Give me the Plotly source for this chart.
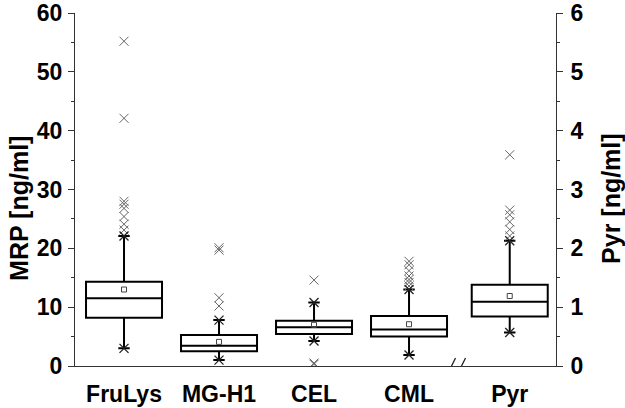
import plotly.graph_objects as go

# ---- data ----
categories = ["FruLys", "MG-H1", "CEL", "CML", "Pyr"]
q1_vals = [8.2, 2.5, 5.45, 5.0, 0.84]
median_vals = [11.5, 3.45, 6.57, 6.2, 1.09]
q3_vals = [14.3, 5.27, 7.7, 8.5, 1.38]
mean_vals = [13.0, 4.1, 7.0, 7.1, 1.19]
low_whisker = [3.0, 1.0, 4.25, 1.87, 0.57]
high_whisker = [22.1, 7.8, 10.8, 13.0, 2.13]
frulys_outliers = [55.2, 42.1, 28.0, 27.5, 26.8, 25.4, 24.1, 23.1]
mgh1_outliers = [20.1, 19.7, 11.6, 10.2]
cel_outliers = [14.6, 0.5, 0.3]
cml_outliers = [17.8, 17.2, 16.2, 15.3, 14.7, 14.2, 13.6]
pyr_outliers = [3.59, 2.65, 2.57, 2.45, 2.32, 2.21]

# ---- layout helpers (positions, not data) ----
x_pos = [0, 1, 2, 3, 4.06]
break_pos = 3.5
FONT = "Liberation Sans, Arial, sans-serif"
outliers = [frulys_outliers, mgh1_outliers, cel_outliers, cml_outliers, pyr_outliers]

fig = go.Figure()

box_style = dict(
    fillcolor="white",
    line=dict(color="black", width=2),
    whiskerwidth=0.15,
    boxpoints=False,
    width=0.8,
    showlegend=False,
    hoverinfo="skip",
)

# MRP boxes (left axis)
fig.add_trace(go.Box(
    x=x_pos[:4], q1=q1_vals[:4], median=median_vals[:4], q3=q3_vals[:4],
    lowerfence=low_whisker[:4], upperfence=high_whisker[:4],
    yaxis="y", **box_style))
# Pyr box (right axis)
fig.add_trace(go.Box(
    x=x_pos[4:], q1=q1_vals[4:], median=median_vals[4:], q3=q3_vals[4:],
    lowerfence=low_whisker[4:], upperfence=high_whisker[4:],
    yaxis="y2", **box_style))

for i, cat in enumerate(categories):
    ax = "y2" if cat == "Pyr" else "y"
    # outliers
    fig.add_trace(go.Scatter(
        x=[x_pos[i]] * len(outliers[i]), y=outliers[i], yaxis=ax, mode="markers",
        marker=dict(symbol="x-thin-open", size=9, color="#666666",
                    line=dict(color="#666666", width=1)),
        showlegend=False, hoverinfo="skip"))
    # 1% / 99% markers at whisker ends
    fig.add_trace(go.Scatter(
        x=[x_pos[i]] * 2, y=[low_whisker[i], high_whisker[i]], yaxis=ax, mode="markers",
        marker=dict(symbol="x-thin-open", size=9, color="#222222",
                    line=dict(color="#222222", width=1.3)),
        showlegend=False, hoverinfo="skip"))
    # mean
    fig.add_trace(go.Scatter(
        x=[x_pos[i]], y=[mean_vals[i]], yaxis=ax, mode="markers",
        marker=dict(symbol="square-open", size=5, color="#444444",
                    line=dict(color="#444444", width=1)),
        showlegend=False, hoverinfo="skip"))

tickfont = dict(family=FONT, size=23, color="black", weight="bold")
titlefont = dict(family=FONT, size=25, color="black", weight="bold")

fig.update_layout(
    width=625, height=408,
    margin=dict(l=75, r=69, t=13, b=42, autoexpand=False),
    paper_bgcolor="white", plot_bgcolor="white",
    xaxis=dict(
        range=[-0.516, 4.547], tickvals=x_pos, ticktext=categories, automargin=False,
        showline=True, linecolor="#333333", linewidth=1, ticks="",
        showgrid=False, zeroline=False, tickfont=tickfont, ticklabelstandoff=7,
    ),
    yaxis=dict(
        range=[0, 60], dtick=10, showline=True, linecolor="#333333", linewidth=1,
        ticks="outside", ticklen=6, tickcolor="#333333", showgrid=False, zeroline=False,
        tickfont=tickfont, ticklabelstandoff=1, automargin=False,
        minor=dict(dtick=5, ticks="outside", ticklen=3, tickcolor="#333333"),
    ),
    yaxis2=dict(
        range=[0, 6], dtick=1, overlaying="y", side="right", showline=True,
        linecolor="#333333", linewidth=1, ticks="outside", ticklen=6, tickcolor="#333333",
        showgrid=False, zeroline=False, tickfont=tickfont, ticklabelstandoff=3,
        automargin=False,
        minor=dict(dtick=0.5, ticks="outside", ticklen=3, tickcolor="#333333"),
    ),
    annotations=[
        dict(text="MRP [ng/ml]", xref="paper", yref="paper", x=-0.1164, y=0.445,
             xanchor="center", yanchor="middle",
             textangle=-90, showarrow=False, font=titlefont),
        dict(text="Pyr [ng/ml]", xref="paper", yref="paper", x=1.1143, y=0.476,
             xanchor="center", yanchor="middle",
             textangle=-90, showarrow=False, font=titlefont),
    ],
    shapes=[
        dict(type="rect", xref="x", yref="y", xsizemode="pixel", ysizemode="pixel",
             xanchor=break_pos, yanchor=0, x0=-5, x1=5, y0=-2, y1=2,
             fillcolor="white", line=dict(width=0), layer="above"),
        dict(type="line", xref="x", yref="y", xsizemode="pixel", ysizemode="pixel",
             xanchor=break_pos, yanchor=0, x0=-9, x1=-1, y0=-8, y1=8,
             line=dict(color="#222222", width=1.3)),
        dict(type="line", xref="x", yref="y", xsizemode="pixel", ysizemode="pixel",
             xanchor=break_pos, yanchor=0, x0=1, x1=9, y0=-8, y1=8,
             line=dict(color="#222222", width=1.3)),
    ],
)

fig.write_html("out.html", config={"displayModeBar": False},
               post_script="document.body.style.margin='0';")
